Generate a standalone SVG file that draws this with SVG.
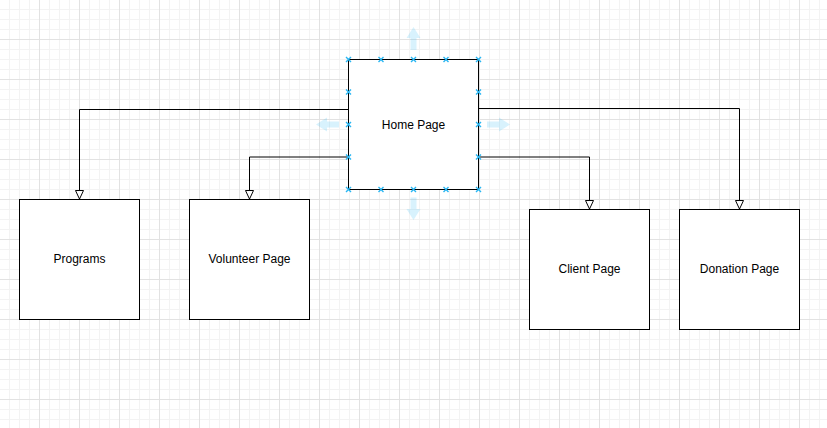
<svg xmlns="http://www.w3.org/2000/svg" width="827" height="428" viewBox="0 0 827 428">
<style>
.box{fill:#fff;stroke:#000;stroke-width:1}
.lbl{font-family:"Liberation Sans",Arial,sans-serif;font-size:12px;fill:#000;text-anchor:middle}
.edge{fill:none;stroke:#000;stroke-width:1}
.h{stroke:#29b6f2;stroke-width:1.4;fill:none}
.ha{fill:#29b6f2;fill-opacity:0.18}
</style>
<defs>
<pattern id="grid" width="40" height="40" patternUnits="userSpaceOnUse">
<path d="M9.5 0V40M19.5 0V40M29.5 0V40M0 9.5H40M0 19.5H40M0 29.5H40" stroke="#f3f3f3" stroke-width="1" fill="none"/>
<path d="M39.5 0V40M0 39.5H40" stroke="#e2e2e2" stroke-width="1" fill="none"/>
</pattern>
<marker id="arr" markerWidth="12" markerHeight="12" refX="9" refY="4.5" orient="auto" markerUnits="userSpaceOnUse">
<path d="M0.5 0.5L9 4.5L0.5 8.5Z" fill="#fff" stroke="#000" stroke-width="1"/>
</marker>
</defs>
<rect width="827" height="428" fill="#fff"/>
<rect width="827" height="428" fill="url(#grid)"/>
<g id="connectors">
<path class="edge" d="M348.5 109.5H79.5V199" marker-end="url(#arr)"/>
<path class="edge" d="M348.5 157H249.5V199" marker-end="url(#arr)"/>
<path class="edge" d="M478.5 108.5H739.5V209" marker-end="url(#arr)"/>
<path class="edge" d="M478.5 157H589.5V209" marker-end="url(#arr)"/>
</g>
<g id="home">
<rect class="box" x="348.5" y="59.5" width="130" height="130"/>
<text class="lbl" x="413.5" y="128.5">Home Page</text>
</g>
<g id="selection">
<path class="h" d="M346 57l5 5m0-5l-5 5M378.5 57l5 5m0-5l-5 5M411 57l5 5m0-5l-5 5M443.5 57l5 5m0-5l-5 5M476 57l5 5m0-5l-5 5
M346 187l5 5m0-5l-5 5M378.5 187l5 5m0-5l-5 5M411 187l5 5m0-5l-5 5M443.5 187l5 5m0-5l-5 5M476 187l5 5m0-5l-5 5
M346 89.5l5 5m0-5l-5 5M346 122l5 5m0-5l-5 5M346 154.5l5 5m0-5l-5 5
M476 89.5l5 5m0-5l-5 5M476 122l5 5m0-5l-5 5M476 154.5l5 5m0-5l-5 5"/>
<path class="ha" d="M413.5 27L420.5 38H416.5V50H410.5V38H406.5Z"/>
<path class="ha" d="M413.5 220L420.5 209H416.5V197.5H410.5V209H406.5Z"/>
<path class="ha" d="M316 124.5L327 117.5V121.5H339V127.5H327V131.5Z"/>
<path class="ha" d="M510 124.5L499 117.5V121.5H487V127.5H499V131.5Z"/>
</g>
<g id="programs">
<rect class="box" x="19.5" y="199.5" width="120" height="120"/>
<text class="lbl" x="79.5" y="263">Programs</text>
</g>
<g id="volunteer">
<rect class="box" x="189.5" y="199.5" width="120" height="120"/>
<text class="lbl" x="249.5" y="263">Volunteer Page</text>
</g>
<g id="client">
<rect class="box" x="529.5" y="209.5" width="120" height="120"/>
<text class="lbl" x="589.5" y="273">Client Page</text>
</g>
<g id="donation">
<rect class="box" x="679.5" y="209.5" width="120" height="120"/>
<text class="lbl" x="739.5" y="273">Donation Page</text>
</g>
</svg>
